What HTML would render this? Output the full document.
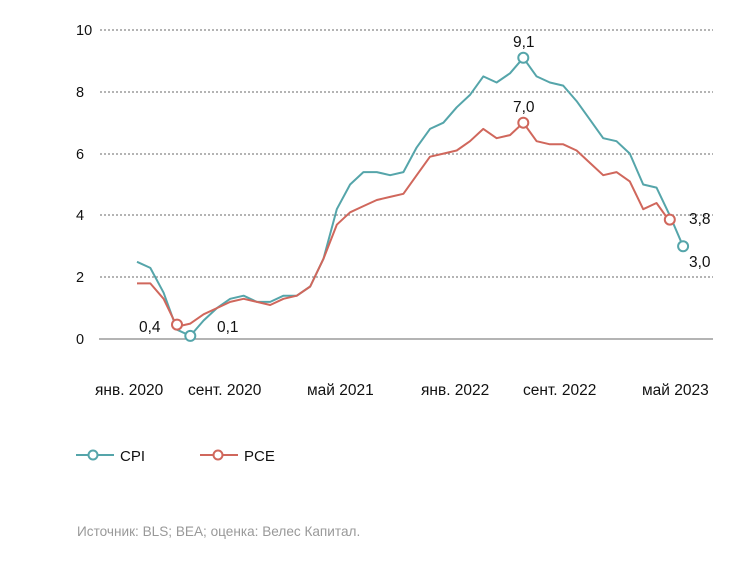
<!DOCTYPE html>
<html><head><meta charset="utf-8"><style>
body{margin:0;background:#fff;}
svg text{font-family:"Liberation Sans","DejaVu Sans",sans-serif;}
</style></head><body>
<svg width="732" height="564" xmlns="http://www.w3.org/2000/svg">
<g stroke="#888" stroke-width="1.2" stroke-dasharray="2,2">
<line x1="100" y1="30" x2="713" y2="30"/>
<line x1="100" y1="92" x2="713" y2="92"/>
<line x1="100" y1="154" x2="713" y2="154"/>
<line x1="100" y1="215" x2="713" y2="215"/>
<line x1="100" y1="277" x2="713" y2="277"/>
</g>
<line x1="99" y1="339" x2="713" y2="339" stroke="#888" stroke-width="1.2"/>
<g font-size="14.5" fill="#111">
<text x="76" y="35">10</text>
<text x="76" y="97">8</text>
<text x="76" y="159">6</text>
<text x="76" y="220">4</text>
<text x="76" y="282">2</text>
<text x="76" y="344">0</text>
</g>
<g font-size="15.5" fill="#111">
<text x="95" y="395">янв. 2020</text>
<text x="188" y="395">сент. 2020</text>
<text x="307" y="395">май 2021</text>
<text x="421" y="395">янв. 2022</text>
<text x="523" y="395">сент. 2022</text>
<text x="642" y="395">май 2023</text>
<text x="139" y="332">0,4</text>
<text x="217" y="332">0,1</text>
<text x="513" y="47">9,1</text>
<text x="513" y="112">7,0</text>
<text x="689" y="224">3,8</text>
<text x="689" y="267">3,0</text>
</g>
<polyline fill="none" stroke="#55a5aa" stroke-width="2" stroke-linejoin="round" points="137,261.8 150.3,267.9 163.6,292.7 177,329.7 190.3,335.9 203.6,320.5 216.9,308.1 230.2,298.8 243.6,295.7 256.9,301.9 270.2,301.9 283.5,295.7 296.8,295.7 310.2,286.5 323.5,258.7 336.8,209.2 350.1,184.5 363.4,172.1 376.8,172.1 390.1,175.2 403.4,172.1 416.7,147.4 430,128.9 443.4,122.7 456.7,107.3 470,94.9 483.3,76.4 496.6,82.5 510,73.3 523.3,57.8 536.6,76.4 549.9,82.5 563.2,85.6 576.6,101.1 589.9,119.6 603.2,138.2 616.5,141.2 629.8,153.6 643.2,184.5 656.5,187.6 669.8,215.4 683.1,246.3"/>
<polyline fill="none" stroke="#d0675c" stroke-width="2" stroke-linejoin="round" points="137,283.4 150.3,283.4 163.6,298.8 177,326.6 190.3,323.6 203.6,314.3 216.9,308.1 230.2,301.9 243.6,298.8 256.9,301.9 270.2,305 283.5,298.8 296.8,295.7 310.2,286.5 323.5,258.7 336.8,224.7 350.1,212.3 363.4,206.1 376.8,200 390.1,196.9 403.4,193.8 416.7,175.2 430,156.7 443.4,153.6 456.7,150.5 470,141.2 483.3,128.9 496.6,138.2 510,135.1 523.3,122.7 536.6,141.2 549.9,144.3 563.2,144.3 576.6,150.5 589.9,162.9 603.2,175.2 616.5,172.1 629.8,181.4 643.2,209.2 656.5,203 669.8,221.6"/>
<g fill="#fff" stroke-width="2">
<circle cx="190.3" cy="335.9" r="5" stroke="#55a5aa"/>
<circle cx="523.3" cy="57.8" r="5" stroke="#55a5aa"/>
<circle cx="683.1" cy="246.3" r="5" stroke="#55a5aa"/>
<circle cx="177" cy="324.6" r="5" stroke="#d0675c"/>
<circle cx="523.3" cy="122.7" r="5" stroke="#d0675c"/>
<circle cx="669.8" cy="219.6" r="5" stroke="#d0675c"/>
</g>
<line x1="76" y1="455" x2="114" y2="455" stroke="#55a5aa" stroke-width="2"/>
<circle cx="93" cy="455" r="4.5" fill="#fff" stroke="#55a5aa" stroke-width="2"/>
<text x="120" y="461" font-size="15" fill="#111">CPI</text>
<line x1="200" y1="455" x2="238" y2="455" stroke="#d0675c" stroke-width="2"/>
<circle cx="218" cy="455" r="4.5" fill="#fff" stroke="#d0675c" stroke-width="2"/>
<text x="244" y="461" font-size="15" fill="#111">PCE</text>
<text x="77" y="536" font-size="13.6" fill="#999">Источник: BLS; BEA; оценка: Велес Капитал.</text>
</svg>
</body></html>
